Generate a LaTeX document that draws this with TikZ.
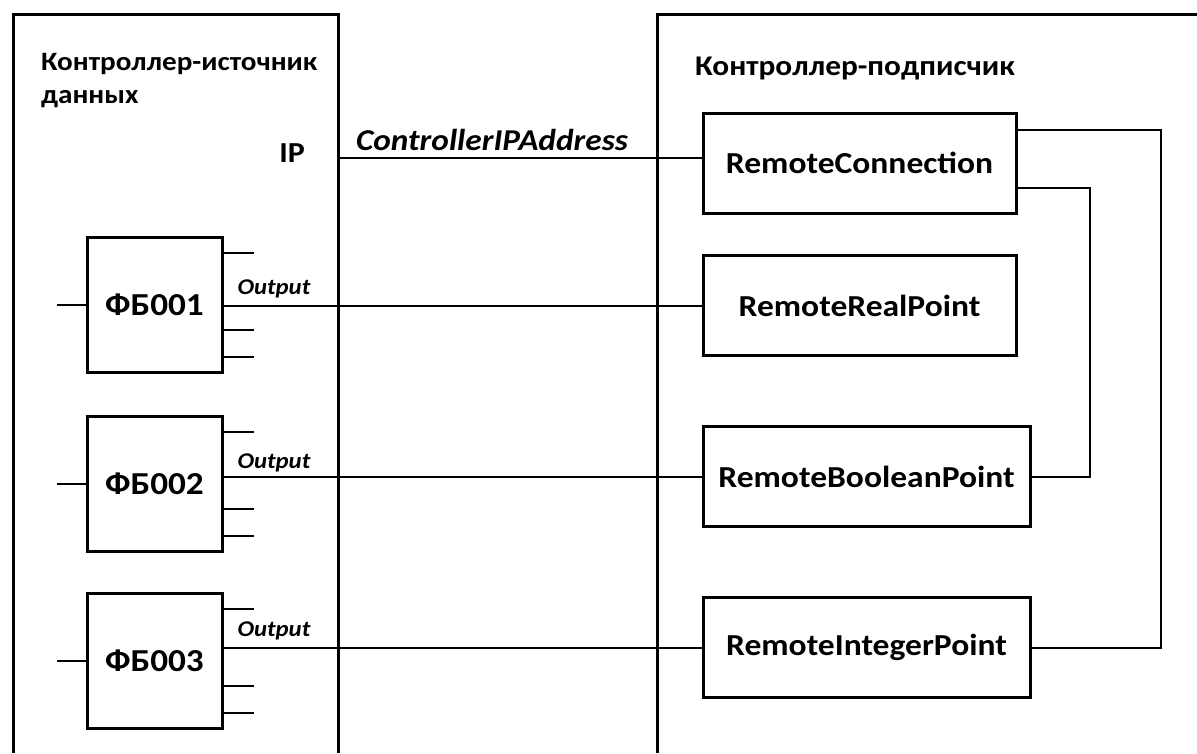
\documentclass[tikz,border=0pt]{standalone}
\usepackage{fontspec}
\setmainfont{Carlito}[FakeStretch=1.1]
\usetikzlibrary{positioning, calc}

\begin{document}
\begin{tikzpicture}[
  x=1pt, y=-1pt,
  every node/.style={font=\bfseries},
  frame/.style={line width=3pt},
  wire/.style={line width=2pt},
  fb/.style={draw, line width=3pt, minimum width=135pt, minimum height=135pt, inner sep=0pt, font=\bfseries\fontsize{32}{38}\selectfont},
  remote/.style={draw, line width=3pt, minimum height=100pt, inner sep=0pt, font=\bfseries\fontsize{30.5}{36}\selectfont},
  title/.style={anchor=base west, inner sep=0pt, font=\bfseries\fontsize{26.5}{32}\selectfont},
  port/.style={anchor=base west, inner sep=0pt, font=\bfseries\itshape\fontsize{22.5}{27}\selectfont},
]
\useasboundingbox (0,0) rectangle (1197,753);

% controllers
\draw[frame] (13,753) -- (13,14) -- (338,14) -- (338,753);
\draw[frame] (657,753) -- (657,14) -- (1197,14);
\node[title] (srctitle) at (41,70) {Контроллер-источник};
\node[title] (srctitle2) at (41,103) {данных};
\node[title, font=\bfseries\fontsize{28.5}{34}\selectfont] (subtitle) at (695,75) {Контроллер-подписчик};

% function blocks
\node[fb] (fb1) at (154.5,305) {ФБ001};
\node[fb] (fb2) at (154.5,484) {ФБ002};
\node[fb] (fb3) at (154.5,661) {ФБ003};
\foreach \b in {fb1,fb2,fb3} {
  \draw[wire] (\b.west) -- ++(-29,0);
  \foreach \dy in {-52,25,52}
    \draw[wire] ($(\b.east)+(0,\dy)$) -- ++(30,0);
}

% remote blocks
\node[remote, minimum width=313pt] (rc) at (859.5,163) {RemoteConnection};
\node[remote, minimum width=313pt] (rrp) at (859.5,305.5) {RemoteRealPoint};
\node[remote, minimum width=327pt] (rbp) at (866.5,476.5) {RemoteBooleanPoint};
\node[remote, minimum width=327pt] (rip) at (866.5,647.5) {RemoteIntegerPoint};

\node[anchor=base east, inner sep=0pt, font=\bfseries\fontsize{29}{34}\selectfont] (ip) at (305,162) {IP};
\coordinate (ipport) at (338,158);
\coordinate (busA) at (1161,0);
\coordinate (busB) at (1090,0);

\draw[wire] (ipport) node[anchor=base west, inner sep=0pt, xshift=17pt, yshift=8pt, font=\bfseries\itshape\fontsize{30.3}{36}\selectfont] {ControllerIPAddress} -- (ipport -| rc.west);
\draw[wire] (rrp.west -| fb1.east) node[port, xshift=13pt, yshift=11pt] {Output} -- (rrp.west);
\draw[wire] (rbp.west -| fb2.east) node[port, xshift=13pt, yshift=8pt] {Output} -- (rbp.west);
\draw[wire] (rip.west -| fb3.east) node[port, xshift=13pt, yshift=11pt] {Output} -- (rip.west);

\draw[wire] ($(rc.south west)!0.87!(rc.south east)$) -- ($(rc.south west)!0.87!(rc.south east)$ |- rrp.north);
\draw[wire] ($(rc.north east)!0.18!(rc.south east)$) -| (busA |- rip.east) -- (rip.east);
\draw[wire] ($(rc.north east)!0.74!(rc.south east)$) -| (busB |- rbp.east) -- (rbp.east);
\end{tikzpicture}
\end{document}
